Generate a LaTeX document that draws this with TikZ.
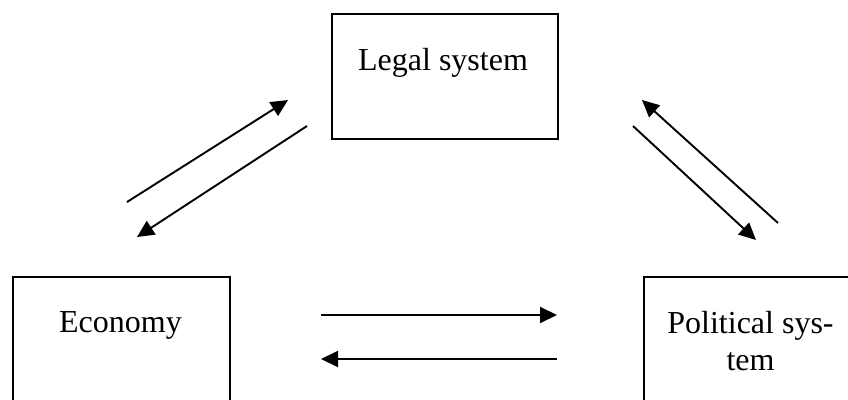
\documentclass[tikz,border=0pt]{standalone}
\usepackage{fontspec}
\setmainfont{Liberation Serif}
\usetikzlibrary{arrows.meta}
\begin{document}
\begin{tikzpicture}[x=1pt,y=-1pt,
  boxnode/.style={draw,line width=2pt,rectangle,inner sep=0pt,anchor=north west},
  lbl/.style={font=\fontsize{32}{37}\selectfont,inner sep=0pt,anchor=base,align=center},
  arr/.style={line width=1.9pt,-{Triangle[length=17pt,width=16pt]}}]
\useasboundingbox (0,0) rectangle (848,399);
\clip (0,0) rectangle (848,399);
\fill[white] (0,0) rectangle (848,399);
% boxes
\node[boxnode,minimum width=226pt,minimum height=125pt] (legal) at (331,13) {};
\node[boxnode,minimum width=217pt,minimum height=140pt] (econ) at (12,276) {};
\node[boxnode,minimum width=215pt,minimum height=140pt] (pol) at (643,276) {};
% labels
\node[lbl] (legalt) at (443,70) {Legal system};
\node[lbl] (econt) at (120.5,332) {Economy};
\node[lbl] (polt) at (750.5,370) {Political sys-\\tem};
% arrow end points
\coordinate (a1s) at (127,202); \coordinate (a1e) at (288,100);
\coordinate (a2s) at (307,126); \coordinate (a2e) at (137,237);
\coordinate (a3s) at (778,223); \coordinate (a3e) at (642,100);
\coordinate (a4s) at (633,126); \coordinate (a4e) at (756,240);
\coordinate (a5s) at (321,315); \coordinate (a5e) at (557,315);
\coordinate (a6s) at (557,359); \coordinate (a6e) at (321,359);
\draw[arr] (a1s) -- (a1e);
\draw[arr] (a2s) -- (a2e);
\draw[arr] (a3s) -- (a3e);
\draw[arr] (a4s) -- (a4e);
\draw[arr] (a5s) -- (a5e);
\draw[arr] (a6s) -- (a6e);
\end{tikzpicture}
\end{document}
